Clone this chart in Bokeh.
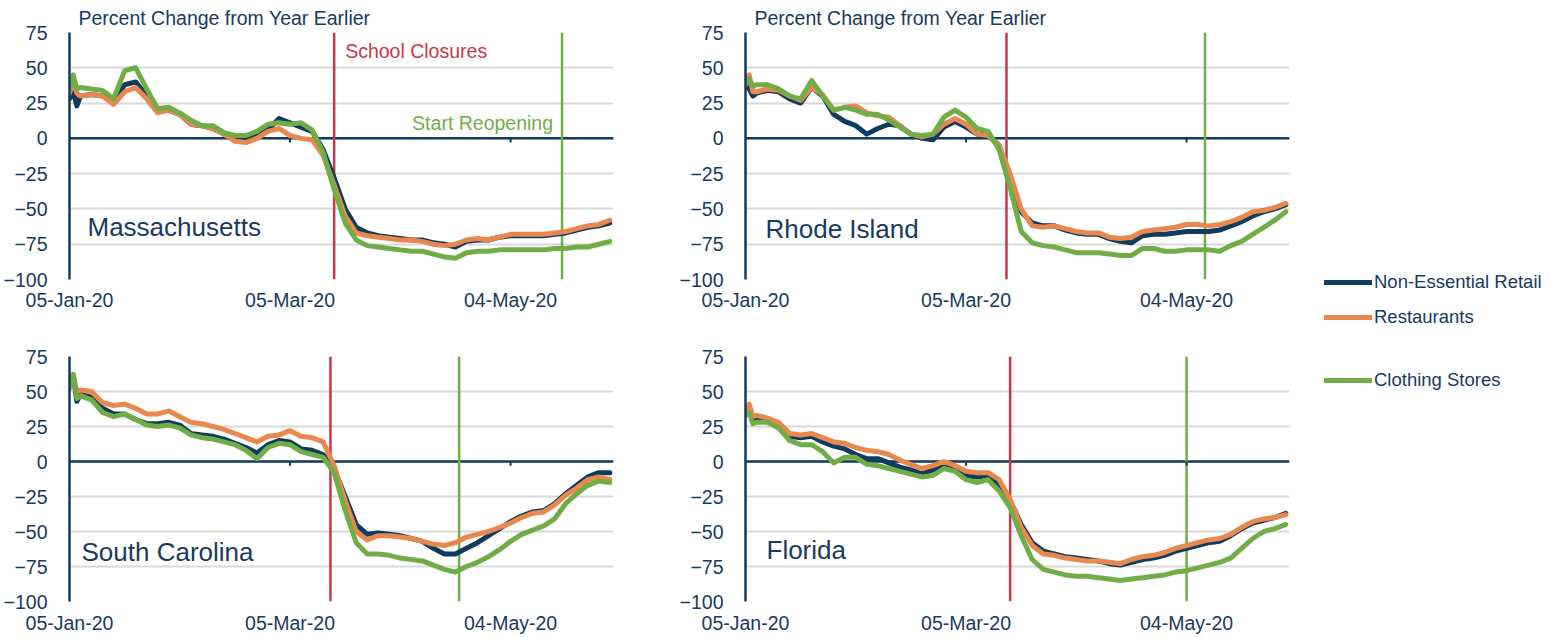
import pandas as pd
from bokeh.plotting import figure
from bokeh.models import (Span, Label, FixedTicker, DatetimeTickFormatter, Range1d,
                          Legend, LegendItem, ColumnDataSource)
from bokeh.layouts import row, column
from bokeh.embed import file_html
from bokeh.resources import INLINE

# ---------------- data ----------------
DATES = ["2020-01-05", "2020-01-06", "2020-01-07", "2020-01-08", "2020-01-11", "2020-01-14",
         "2020-01-17", "2020-01-20", "2020-01-23", "2020-01-26", "2020-01-29", "2020-02-01",
         "2020-02-04", "2020-02-07", "2020-02-10", "2020-02-13", "2020-02-16", "2020-02-19",
         "2020-02-22", "2020-02-25", "2020-02-28", "2020-03-02", "2020-03-05", "2020-03-08",
         "2020-03-11", "2020-03-14", "2020-03-17", "2020-03-20", "2020-03-23", "2020-03-26",
         "2020-03-29", "2020-04-01", "2020-04-04", "2020-04-07", "2020-04-10", "2020-04-13",
         "2020-04-16", "2020-04-19", "2020-04-22", "2020-04-25", "2020-04-28", "2020-05-01",
         "2020-05-04", "2020-05-07", "2020-05-10", "2020-05-13", "2020-05-16", "2020-05-19",
         "2020-05-22", "2020-05-25", "2020-05-28", "2020-05-31"]

SERIES = ["Non-Essential Retail", "Restaurants", "Clothing Stores"]

MA_RETAIL = [28, 33, 23, 30, 31, 30, 25, 38, 40, 30, 19, 20, 17, 10, 9, 7, 3, 0, -1, 2, 6, 14,
             11, 8, 5, -8, -28, -50, -63, -67, -69, -70, -71, -72, -72, -74, -75, -77, -73, -72,
             -72, -70, -69, -69, -69, -69, -68, -67, -65, -63, -62, -60]
MA_REST = [32, 40, 32, 30, 31, 30, 24, 33, 36, 28, 18, 20, 17, 10, 9, 7, 3, -2, -3, 0, 5, 7,
           2, 0, -1, -12, -33, -55, -67, -69, -70, -71, -72, -72, -73, -75, -76, -75, -72, -71,
           -72, -70, -68, -68, -68, -68, -67, -66, -64, -62, -61, -58]
MA_CLOTH = [35, 45, 35, 36, 35, 34, 28, 48, 50, 35, 21, 22, 18, 13, 9, 9, 4, 2, 2, 5, 10, 11,
            10, 11, 6, -10, -36, -60, -72, -76, -77, -78, -79, -80, -80, -82, -84, -85, -81, -80,
            -80, -79, -79, -79, -79, -79, -78, -78, -77, -77, -75, -73]

RI_RETAIL = [38, 35, 30, 32, 34, 33, 28, 25, 36, 30, 17, 12, 9, 3, 7, 10, 9, 3, 0, -1, 8, 12,
             8, 3, 2, -5, -30, -52, -60, -62, -62, -65, -67, -68, -68, -71, -73, -74, -69, -68,
             -68, -67, -66, -66, -66, -65, -62, -59, -55, -52, -50, -47]
RI_REST = [38, 45, 33, 33, 35, 34, 30, 27, 36, 31, 20, 22, 23, 18, 16, 15, 9, 3, 1, 3, 10, 14,
           10, 3, 2, -5, -25, -50, -62, -63, -62, -64, -66, -67, -67, -70, -71, -70, -66, -65,
           -64, -63, -61, -61, -62, -61, -59, -56, -52, -51, -49, -46]
RI_CLOTH = [40, 42, 37, 38, 38, 35, 30, 28, 41, 30, 20, 22, 20, 17, 17, 13, 8, 3, 2, 3, 15, 20,
            15, 7, 5, -8, -35, -66, -74, -76, -77, -79, -81, -81, -81, -82, -83, -83, -78, -78,
            -80, -80, -79, -79, -79, -80, -76, -73, -68, -63, -58, -52]

SC_RETAIL = [55, 62, 43, 48, 46, 38, 34, 34, 30, 27, 27, 28, 26, 20, 19, 18, 16, 13, 10, 6, 12,
             15, 14, 9, 8, 5, -5, -25, -45, -52, -51, -52, -53, -55, -57, -62, -66, -66, -62,
             -58, -53, -48, -43, -39, -36, -35, -30, -23, -17, -11, -8, -8]
SC_REST = [52, 62, 50, 51, 50, 42, 40, 41, 38, 34, 34, 36, 32, 28, 27, 25, 23, 20, 17, 14, 18,
           19, 22, 18, 17, 14, -3, -28, -50, -56, -53, -53, -54, -55, -57, -59, -60, -58, -54,
           -52, -50, -47, -44, -40, -37, -36, -31, -24, -19, -13, -11, -13]
SC_CLOTH = [55, 62, 45, 47, 44, 35, 32, 34, 30, 26, 25, 26, 24, 19, 17, 16, 14, 12, 8, 2, 10,
            13, 12, 7, 5, 3, -8, -35, -58, -66, -66, -67, -69, -70, -71, -74, -77, -79, -75,
            -72, -68, -63, -57, -52, -49, -46, -41, -30, -23, -17, -14, -15]

FL_RETAIL = [33, 38, 30, 31, 30, 26, 18, 17, 18, 14, 11, 9, 5, 2, 2, -1, -4, -6, -9, -6, -2,
             -4, -10, -11, -10, -16, -28, -45, -58, -64, -66, -68, -69, -70, -71, -73, -74, -72,
             -70, -69, -67, -64, -62, -60, -58, -57, -53, -48, -44, -42, -40, -37]
FL_REST = [35, 41, 32, 33, 31, 28, 20, 19, 20, 17, 14, 13, 10, 8, 7, 5, 1, -2, -5, -3, 0, -3,
           -7, -8, -8, -13, -27, -47, -60, -66, -67, -69, -70, -71, -71, -72, -73, -70, -68,
           -67, -65, -62, -60, -58, -56, -55, -52, -47, -43, -41, -40, -38]
FL_CLOTH = [33, 35, 27, 28, 28, 24, 15, 12, 12, 7, -1, 3, 3, -2, -3, -5, -7, -9, -11, -10, -5,
            -7, -13, -15, -13, -21, -33, -53, -70, -77, -79, -81, -82, -82, -83, -84, -85, -84,
            -83, -82, -81, -79, -78, -76, -74, -72, -69, -62, -55, -50, -48, -45]

STATES = ["Massachusetts", "Rhode Island", "South Carolina", "Florida"]
SCHOOL_CLOSURE = ["2020-03-17", "2020-03-16", "2020-03-16", "2020-03-17"]
REOPENING = ["2020-05-18", "2020-05-09", "2020-04-20", "2020-05-04"]

X_TICKS = ["2020-01-05", "2020-03-05", "2020-05-04"]
Y_TICKS = [-100, -75, -50, -25, 0, 25, 50, 75]
X_START, X_END = "2020-01-05", "2020-06-01"
Y_TITLE = "Percent Change from Year Earlier"

# ---------------- style ----------------
FONT = "Liberation Sans"
NAVY = "#0E3B5E"
ORANGE = "#E8874E"
GREEN = "#70AD47"
RED = "#C8374A"
TEXT = "#173A5E"
GRID = "#D9D9D9"
COLORS = [NAVY, ORANGE, GREEN]


def ms(s):
    return pd.Timestamp(s).value / 1e6


def panel(idx, retail, rest, cloth, width, height, bl, br, bt, bb, standoff,
          title=False, annotate=False, name_dx=18, name_y=-63):
    p = figure(width=width, height=height, x_axis_type="datetime",
               x_range=Range1d(ms(X_START), ms(X_END)), y_range=Range1d(-100, 75),
               output_backend="svg", toolbar_location=None,
               min_border_left=bl, min_border_right=br, min_border_top=bt, min_border_bottom=bb)
    p.outline_line_color = None
    p.background_fill_color = "white"
    p.border_fill_color = "white"

    if title:
        p.title.text = Y_TITLE
        p.title.align = "left"
        p.title.offset = 9
        p.title.standoff = 8
        p.title.text_font = FONT
        p.title.text_font_size = "19.5px"
        p.title.text_font_style = "normal"
        p.title.text_color = TEXT

    p.yaxis.ticker = FixedTicker(ticks=Y_TICKS)
    p.yaxis.axis_line_color = NAVY
    p.yaxis.axis_line_width = 2.5
    p.yaxis.major_tick_line_color = None
    p.yaxis.minor_tick_line_color = None
    p.yaxis.major_label_standoff = 16
    p.yaxis.major_label_text_font = FONT
    p.yaxis.major_label_text_font_size = "19.5px"
    p.yaxis.major_label_text_color = TEXT

    p.xaxis.ticker = FixedTicker(ticks=[ms(t) for t in X_TICKS])
    fmt = "%d-%b-%y"
    p.xaxis.formatter = DatetimeTickFormatter(
        milliseconds=fmt, seconds=fmt, minsec=fmt, minutes=fmt, hourmin=fmt, hours=fmt,
        days=fmt, months=fmt, years=fmt)
    p.xaxis.axis_line_color = None
    p.xaxis.major_tick_line_color = None
    p.xaxis.minor_tick_line_color = None
    p.xaxis.major_tick_out = 0
    p.xaxis.major_label_standoff = standoff
    p.xaxis.major_label_text_font = FONT
    p.xaxis.major_label_text_font_size = "19.5px"
    p.xaxis.major_label_text_color = TEXT

    p.xgrid.visible = False
    p.ygrid.ticker = FixedTicker(ticks=Y_TICKS)
    p.ygrid.grid_line_color = GRID
    p.ygrid.grid_line_width = 2

    p.add_layout(Span(location=0, dimension="width", line_color=NAVY, line_width=2.5,
                      level="underlay"))
    p.add_layout(Span(location=ms(SCHOOL_CLOSURE[idx]), dimension="height", line_color=RED,
                      line_width=2.5, level="underlay"))
    p.add_layout(Span(location=ms(REOPENING[idx]), dimension="height", line_color=GREEN,
                      line_width=2.5, level="underlay"))

    tick_x = [ms(t) for t in X_TICKS[1:]]
    p.segment(x0=tick_x, y0=[0] * len(tick_x), x1=tick_x, y1=[-3] * len(tick_x),
              line_color=NAVY, line_width=2)

    src = ColumnDataSource(dict(x=pd.to_datetime(DATES), retail=retail, rest=rest, cloth=cloth))
    for col, c in zip(["retail", "rest", "cloth"], COLORS):
        p.line(x="x", y=col, source=src, line_color=c, line_width=5,
               line_join="round", line_cap="round")

    p.add_layout(Label(x=ms(X_START), y=name_y, x_offset=name_dx, text=STATES[idx],
                       text_font=FONT, text_font_size="26px", text_color=TEXT,
                       text_baseline="middle"))
    if annotate:
        p.add_layout(Label(x=ms(SCHOOL_CLOSURE[idx]), y=62, x_offset=11, text="School Closures",
                           text_font=FONT, text_font_size="19.5px", text_color=RED,
                           text_baseline="middle"))
        p.add_layout(Label(x=ms(REOPENING[idx]), y=11, x_offset=-9, text="Start Reopening",
                           text_font=FONT, text_font_size="19.5px", text_color=GREEN,
                           text_baseline="middle", text_align="right"))
    return p


p_ma = panel(0, MA_RETAIL, MA_REST, MA_CLOTH, 670, 315, 69, 57, 32, 36, 9,
             title=True, annotate=True, name_dx=18, name_y=-63)
p_ri = panel(1, RI_RETAIL, RI_REST, RI_CLOTH, 630, 315, 75, 11, 32, 36, 9,
             title=True, name_dx=20, name_y=-64)
p_sc = panel(2, SC_RETAIL, SC_REST, SC_CLOTH, 670, 321, 69, 57, 41, 33, 10,
             name_dx=12, name_y=-64.5)
p_fl = panel(3, FL_RETAIL, FL_REST, FL_CLOTH, 630, 321, 75, 11, 41, 33, 10,
             name_dx=21, name_y=-63.5)

# ---------------- legend ----------------
# Legend-only panel: the sample renderers hold real series but sit outside this panel's view.
lf = figure(width=254, height=636, output_backend="svg", toolbar_location=None,
            x_axis_location=None, y_axis_location=None,
            x_range=Range1d(0, 1), y_range=Range1d(0, 1), min_border=0)
lf.outline_line_color = None
lf.grid.visible = False
LEGEND_BOTTOMS = [343, 308, 245]
legend_src = ColumnDataSource(dict(x=pd.to_datetime(DATES), retail=MA_RETAIL, rest=MA_REST,
                                   cloth=MA_CLOTH))
for name, col, c, b in zip(SERIES, ["retail", "rest", "cloth"], COLORS, LEGEND_BOTTOMS):
    r = lf.line(x="x", y=col, source=legend_src, line_color=c, line_width=5, line_cap="round")
    leg = Legend(items=[LegendItem(label=name, renderers=[r])], location=(24, b),
                 padding=0, margin=0, spacing=0, border_line_color=None,
                 background_fill_alpha=0, label_text_font=FONT, label_text_font_size="18.5px",
                 label_text_color=TEXT, glyph_width=48, glyph_height=20, label_standoff=2,
                 label_height=20)
    lf.add_layout(leg)

layout = row(column(row(p_ma, p_ri), row(p_sc, p_fl)), lf)

open("out.html", "w").write(file_html(layout, INLINE))
